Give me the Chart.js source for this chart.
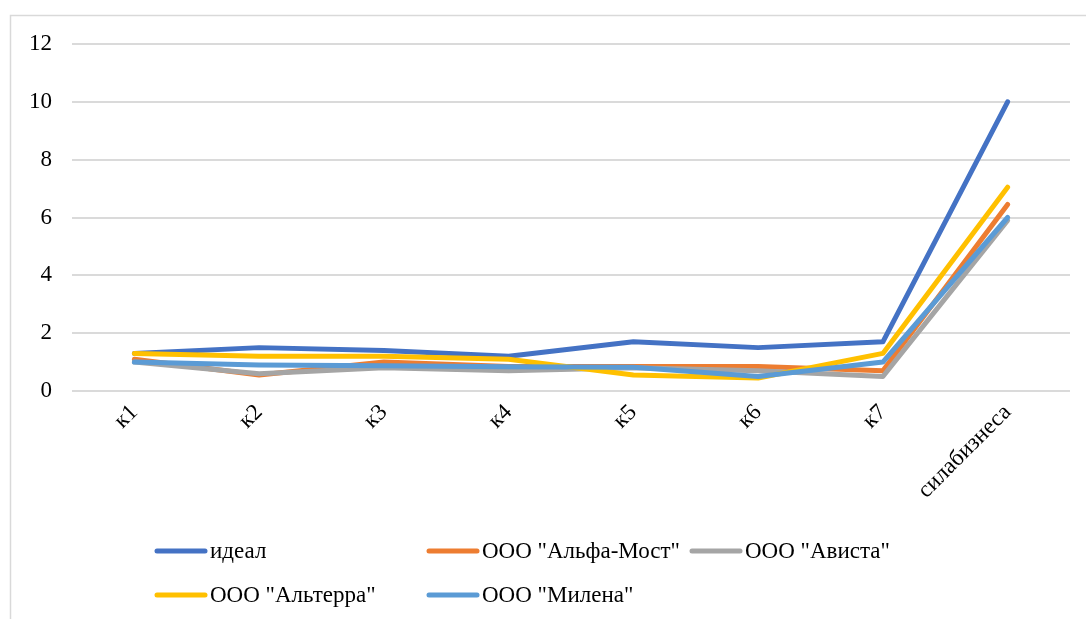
<!DOCTYPE html>
<html>
<head>
<meta charset="utf-8">
<script src="https://cdn.jsdelivr.net/npm/chart.js@4/dist/chart.umd.min.js"></script>
<style>
  html, body { margin: 0; padding: 0; background: #fff; }
  #wrap { width: 1086px; height: 619px; position: relative; }
</style>
</head>
<body>
<div id="wrap"><canvas id="c" width="1086" height="619"></canvas></div>
<script>
// Категории показателей
const categories = ['к1', 'к2', 'к3', 'к4', 'к5', 'к6', 'к7', 'силабизнеса'];

// Значения по организациям
const ideal      = [1.3, 1.5, 1.4, 1.2, 1.7, 1.5, 1.7, 10];
const alfaMost   = [1.1, 0.55, 1.0, 0.85, 0.85, 0.85, 0.7, 6.45];
const avista     = [1.0, 0.6, 0.8, 0.7, 0.8, 0.7, 0.5, 5.9];
const alterra    = [1.3, 1.2, 1.2, 1.1, 0.55, 0.45, 1.3, 7.05];
const milena     = [1.0, 0.9, 0.87, 0.84, 0.82, 0.5, 1.0, 6.0];

const seriesNames = ['идеал', 'ООО "Альфа-Мост"', 'ООО "Ависта"', 'ООО "Альтерра"', 'ООО "Милена"'];
const seriesColors = ['#4472C4', '#ED7D31', '#A5A5A5', '#FFC000', '#5B9BD5'];
const yTicks = [0, 2, 4, 6, 8, 10, 12];

const FONT = '"Liberation Serif", "Times New Roman", serif';
const FONT_SIZE = 23;

const values = [ideal, alfaMost, avista, alterra, milena];
const datasets = values.map((v, i) => ({
  label: seriesNames[i],
  data: v,
  borderColor: seriesColors[i],
  backgroundColor: seriesColors[i],
  borderWidth: 5,
  borderCapStyle: 'round',
  borderJoinStyle: 'round',
  pointRadius: 0,
  tension: 0,
  fill: false,
  order: values.length - i   // later series painted over earlier ones
}));

// Рамка области диаграммы
const frame = {
  id: 'frame',
  beforeDraw(chart) {
    const ctx = chart.ctx;
    ctx.save();
    ctx.fillStyle = '#fff';
    ctx.fillRect(0, 0, chart.width, chart.height);
    ctx.strokeStyle = '#D9D9D9';
    ctx.lineWidth = 1.5;
    ctx.strokeRect(10.5, 15.5, chart.width + 20, chart.height + 20);
    ctx.restore();
  }
};

// Легенда в две строки с фиксированными колонками
const legendGrid = {
  id: 'legendGrid',
  afterDraw(chart) {
    const ctx = chart.ctx;
    const cols = [155, 427, 690];
    const rows = [551, 595];
    ctx.save();
    ctx.font = FONT_SIZE + 'px ' + FONT;
    ctx.textBaseline = 'middle';
    ctx.textAlign = 'left';
    chart.data.datasets.forEach((ds, i) => {
      const x = cols[i % 3];
      const y = rows[Math.floor(i / 3)];
      ctx.strokeStyle = ds.borderColor;
      ctx.lineWidth = 5;
      ctx.lineCap = 'round';
      ctx.beginPath();
      ctx.moveTo(x + 2, y);
      ctx.lineTo(x + 50, y);
      ctx.stroke();
      ctx.fillStyle = '#000';
      ctx.fillText(ds.label, x + 55, y + 1);
    });
    ctx.restore();
  }
};

new Chart(document.getElementById('c'), {
  type: 'line',
  data: { labels: categories, datasets },
  options: {
    responsive: false,
    animation: false,
    layout: { padding: { left: 0, right: 16, top: 44, bottom: 98 } },
    plugins: {
      legend: { display: false },
      tooltip: { enabled: false }
    },
    scales: {
      x: {
        offset: true,
        grid: { display: false, drawTicks: false },
        border: { display: false },
        ticks: {
          minRotation: 45,
          maxRotation: 45,
          padding: 8,
          color: '#000',
          font: { family: FONT, size: FONT_SIZE }
        },
        afterFit(scale) { scale.height = 130; }
      },
      y: {
        min: 0,
        max: 12,
        afterBuildTicks(scale) { scale.ticks = yTicks.map(v => ({ value: v })); },
        grid: { color: '#DADADA', lineWidth: 2, drawTicks: false },
        border: { display: false },
        ticks: {
          padding: 20,
          color: '#000',
          font: { family: FONT, size: FONT_SIZE }
        },
        afterFit(scale) { scale.width = 72; }
      }
    }
  },
  plugins: [frame, legendGrid]
});
</script>
</body>
</html>
